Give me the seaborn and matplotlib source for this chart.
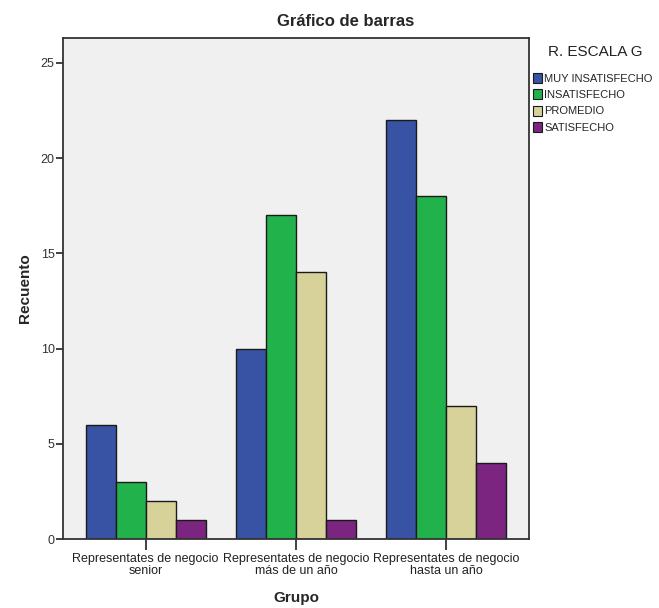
import matplotlib
matplotlib.use("Agg")
import matplotlib.pyplot as plt
import seaborn as sns
import pandas as pd

groups = ["Representates de negocio\nsenior",
          "Representates de negocio\nmás de un año",
          "Representates de negocio\nhasta un año"]
levels = ["MUY INSATISFECHO", "INSATISFECHO", "PROMEDIO", "SATISFECHO"]
muy_insatisfecho = [6, 10, 22]
insatisfecho = [3, 17, 18]
promedio = [2, 14, 7]
satisfecho = [1, 1, 4]
colors = ["#3953A4", "#22B24C", "#D6D29A", "#7B2580"]

rows = []
for lvl, vals in zip(levels, [muy_insatisfecho, insatisfecho, promedio, satisfecho]):
    for g, v in zip(groups, vals):
        rows.append({"Grupo": g, "Nivel": lvl, "Recuento": v})
df = pd.DataFrame(rows)

sns.set_theme(style="white")
plt.rcParams["font.family"] = ["Liberation Sans", "DejaVu Sans"]

fig = plt.figure(figsize=(6.59, 6.08), dpi=100)
ax = fig.add_axes([63/659, 1-539/608, (529-63)/659, (539-38)/608])
ax.set_facecolor("#F0F0F0")

sns.barplot(data=df, x="Grupo", y="Recuento", hue="Nivel", hue_order=levels,
            order=groups, palette=colors, saturation=1, width=0.8,
            edgecolor="#1a1a1a", linewidth=1.0, errorbar=None, ax=ax, legend=True)

ax.set_xlim(-0.55, 2.55)
ax.set_ylim(0, 26.3)
ax.set_yticks([0, 5, 10, 15, 20, 25])
for s in ax.spines.values():
    s.set_visible(True)
    s.set_color("#333333")
    s.set_linewidth(1.3)
ax.tick_params(axis="y", direction="out", length=5, width=1.3, color="#333333",
               labelsize=9, labelcolor="#333333", pad=1, left=True)
ax.tick_params(axis="x", direction="out", length=8, width=1.3, color="#333333",
               labelsize=9, labelcolor="#222222", pad=2, bottom=True)
for t in ax.get_xticklabels():
    t.set_linespacing(1.0)

ax.set_xlabel("Grupo", fontsize=11, fontweight="bold", labelpad=10)
ax.set_ylabel("Recuento", fontsize=11, fontweight="bold", labelpad=6)

fig.text(346/659, 1-22/608, "Gráfico de barras", ha="center", va="center",
         fontsize=12, fontweight="bold")
fig.text(548/659, 1-52/608, "R. ESCALA G", ha="left", va="center",
         fontsize=11, color="#222222")

leg = ax.legend(loc="upper left", bbox_to_anchor=(533/659, 1-73/608),
                bbox_transform=fig.transFigure,
                frameon=False, fontsize=8,
                handlelength=0.8, handleheight=1.0, handletextpad=0.2,
                labelspacing=0.5, borderaxespad=0, borderpad=0)
for h in leg.legend_handles:
    h.set_edgecolor("#1a1a1a")
    h.set_linewidth(0.8)

fig.savefig("out.png", dpi=100, facecolor="white")
